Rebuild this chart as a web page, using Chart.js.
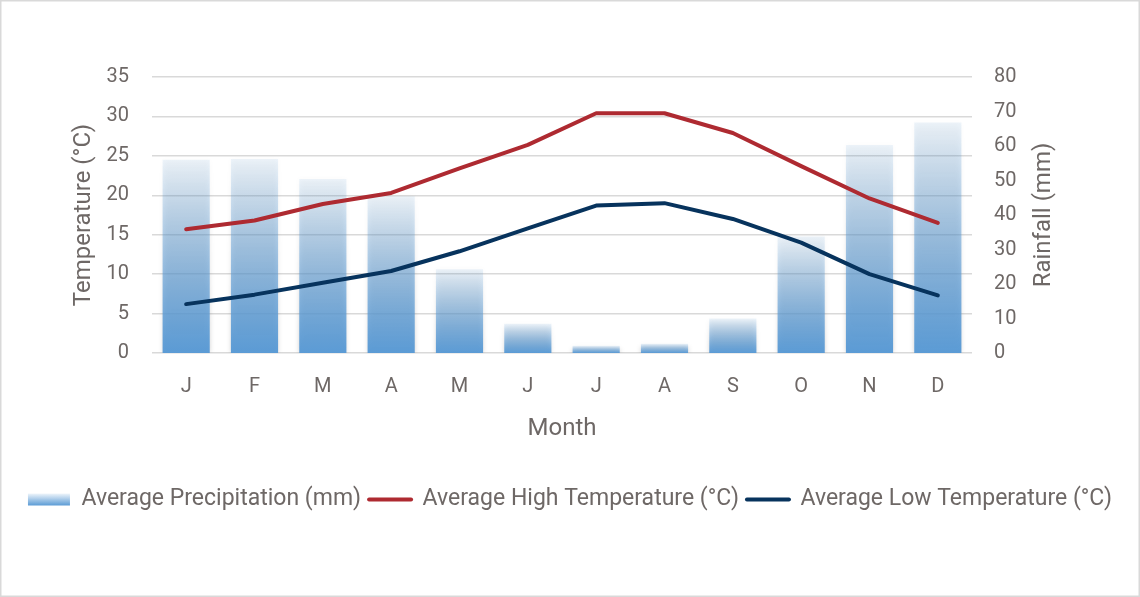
<!DOCTYPE html>
<html><head><meta charset="utf-8">
<script src="https://cdn.jsdelivr.net/npm/chart.js@4.4.0/dist/chart.umd.min.js"></script>
<style>html,body{margin:0;padding:0;background:#fff}canvas{display:block}</style>
</head><body>
<canvas id="c" width="1140" height="597"></canvas>
<script>
// ---- data ----
const months = ['J','F','M','A','M','J','J','A','S','O','N','D'];
const precipitation = [56.0, 56.2, 50.4, 45.4, 24.3, 8.5, 2.1, 2.7, 10.0, 33.8, 60.3, 66.8];
const highTemp = [15.7, 16.8, 18.9, 20.3, 23.4, 26.4, 30.4, 30.4, 27.9, 23.7, 19.6, 16.5];
const lowTemp = [6.2, 7.4, 8.9, 10.4, 12.9, 15.8, 18.7, 19.0, 17.0, 14.0, 10.0, 7.3];
const seriesNames = ['Average Precipitation (mm)', 'Average High Temperature (°C)', 'Average Low Temperature (°C)'];
const tempAxis = {min: 0, max: 35, step: 5, title: 'Temperature (°C)'};
const rainAxis = {min: 0, max: 80, step: 10, title: 'Rainfall (mm)'};
const xTitle = 'Month';

const TEXT = '#6e6866';
const RED = '#ae2a31';
const NAVY = '#07335d';
const FONT = 'Roboto';

function barGradient(ctx, top, base) {
  const g = ctx.createLinearGradient(0, top, 0, base);
  g.addColorStop(0, 'rgba(91,155,213,0.10)');
  g.addColorStop(1, 'rgba(91,155,213,1)');
  return g;
}

const decor = {
  id: 'decor',
  beforeDatasetDraw(chart, args) {
    if (args.index === 0) {
      const ctx = chart.ctx;
      ctx.save();
      ctx.shadowColor = 'rgba(0,0,0,0.22)';
      ctx.shadowBlur = 5;
    }
  },
  afterDatasetDraw(chart, args) {
    if (args.index === 0) chart.ctx.restore();
  },
  beforeDraw(chart) {
    const lg = chart.legend;
    if (lg && lg.legendHitBoxes && lg.legendHitBoxes.length && lg.legendItems) {
      const hb = lg.legendHitBoxes[0];
      const cy = hb.top + hb.height / 2;
      lg.legendItems[0].fillStyle = barGradient(chart.ctx, cy - 6, cy + 6);
    }
  },
  afterDraw(chart) {
    const ctx = chart.ctx;
    const s = chart.scales.y2, ca = chart.chartArea;
    ctx.save();
    ctx.translate(s.right - 96, (ca.top + ca.bottom) / 2);
    ctx.rotate(-Math.PI / 2);
    ctx.font = '24px ' + FONT;
    ctx.fillStyle = TEXT;
    ctx.textAlign = 'center';
    ctx.textBaseline = 'middle';
    ctx.fillText(rainAxis.title, 0, 0);
    ctx.restore();
    ctx.save();
    ctx.strokeStyle = '#d9d9d9';
    ctx.lineWidth = 1.5;
    ctx.strokeRect(0.75, 0.75, chart.width - 1.5, chart.height - 1.5);
    ctx.restore();
  }
};

new Chart(document.getElementById('c'), {
  type: 'bar',
  data: {
    labels: months,
    datasets: [
      {
        type: 'bar', label: seriesNames[0], data: precipitation, yAxisID: 'y2', order: 3,
        backgroundColor: (c) => {
          const chart = c.chart, s = chart.scales.y2;
          if (!s || c.type !== 'data' || !chart.chartArea) return 'rgba(91,155,213,0.6)';
          return barGradient(chart.ctx, s.getPixelForValue(c.raw), s.getPixelForValue(0));
        },
        borderWidth: 0, barPercentage: 0.69, categoryPercentage: 1
      },
      {
        type: 'line', label: seriesNames[1], data: highTemp, yAxisID: 'y', order: 2,
        borderColor: RED, backgroundColor: RED, borderWidth: 4, pointRadius: 0,
        borderCapStyle: 'round', borderJoinStyle: 'round', tension: 0, fill: false
      },
      {
        type: 'line', label: seriesNames[2], data: lowTemp, yAxisID: 'y', order: 1,
        borderColor: NAVY, backgroundColor: NAVY, borderWidth: 4, pointRadius: 0,
        borderCapStyle: 'round', borderJoinStyle: 'round', tension: 0, fill: false
      }
    ]
  },
  options: {
    responsive: false,
    animation: false,
    devicePixelRatio: 1,
    layout: {padding: {top: 77, left: 0, right: 0, bottom: 76}},
    plugins: {
      tooltip: {enabled: false},
      legend: {
        position: 'bottom',
        labels: {
          usePointStyle: true, pointStyleWidth: 42, boxHeight: 12, padding: 8,
          color: TEXT, font: {family: FONT, size: 23},
          generateLabels: (chart) => chart.data.datasets.map((ds, i) => ({
            text: ds.label,
            datasetIndex: i,
            fillStyle: i === 0 ? '#8fb8e0' : ds.borderColor,
            strokeStyle: i === 0 ? 'rgba(0,0,0,0)' : ds.borderColor,
            lineWidth: i === 0 ? 0 : 4,
            lineCap: 'round',
            pointStyle: i === 0 ? 'rect' : 'line',
            fontColor: TEXT,
            hidden: false
          }))
        }
      }
    },
    scales: {
      x: {
        grid: {display: false, drawTicks: false},
        border: {display: false},
        ticks: {color: TEXT, font: {family: FONT, size: 20}, padding: 22},
        title: {display: true, text: xTitle, color: TEXT, font: {family: FONT, size: 24}, padding: 36.5},
        afterFit: (s) => { s.height = 127; }
      },
      y: {
        position: 'left', min: tempAxis.min, max: tempAxis.max,
        grid: {color: '#d9d9d9', lineWidth: 1.5, drawTicks: false},
        border: {display: false},
        ticks: {stepSize: tempAxis.step, color: TEXT, font: {family: FONT, size: 20}, padding: 23},
        title: {display: true, text: tempAxis.title, color: TEXT, font: {family: FONT, size: 24}, padding: 69.6},
        afterFit: (s) => { s.width = 152; }
      },
      y2: {
        position: 'right', min: rainAxis.min, max: rainAxis.max,
        grid: {display: false, drawTicks: false},
        border: {display: false},
        ticks: {stepSize: rainAxis.step, color: TEXT, font: {family: FONT, size: 20}, padding: 22},
        title: {display: false, text: rainAxis.title},
        afterFit: (s) => { s.width = 168; }
      }
    }
  },
  plugins: [decor]
});
</script>
</body></html>
